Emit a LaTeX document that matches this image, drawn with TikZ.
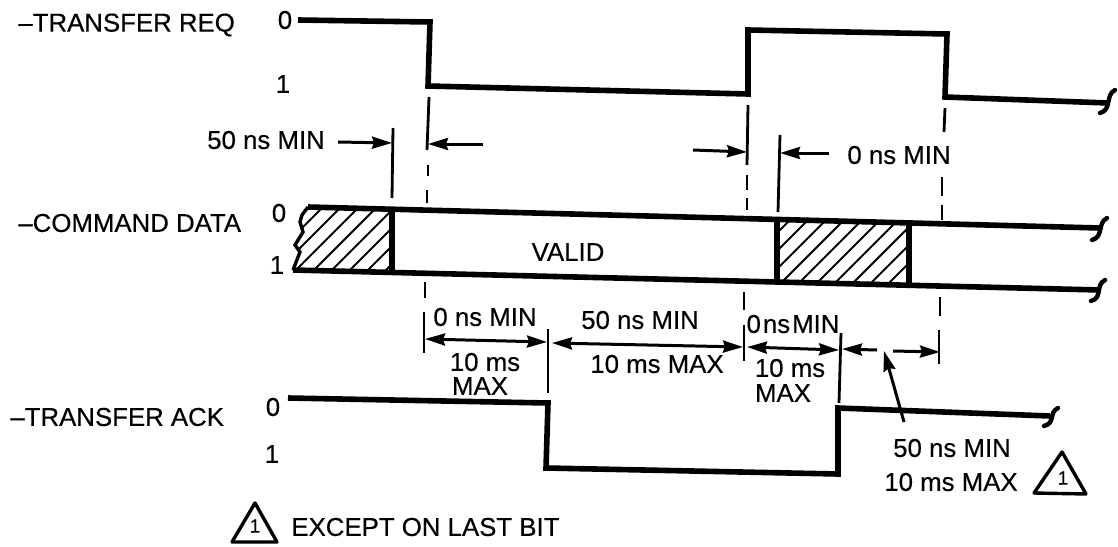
\documentclass[tikz,border=0pt]{standalone}
\usepackage{fontspec}
\setmainfont{Liberation Sans}[FakeBold=0.4]
\usetikzlibrary{arrows.meta, calc}
\tikzset{
  sigline/.style={line width=2.8pt, line join=miter},
  tickline/.style={line width=1.4pt},
  dimline/.style={line width=1.5pt, {Stealth[length=10pt,width=6pt,inset=1pt]}-{Stealth[length=10pt,width=6pt,inset=1pt]}},
  dimright/.style={line width=1.5pt, -{Stealth[length=10pt,width=6pt,inset=1pt]}},
  hatchline/.style={line width=1pt},
  breakmark/.style={line width=2.2pt, line cap=round},
  tlabel/.style={inner sep=0pt, font=\fontsize{12.9}{14}\selectfont},
  warnmark/.style={line width=1.7pt, line join=round},
  warnnum/.style={inner sep=0pt, font=\fontsize{9.5}{11}\selectfont}
}
\begin{document}
\begin{tikzpicture}[x=0.5pt, y=-0.5pt]
  \useasboundingbox (0,0) rectangle (1118,546);
  % signal names and levels
  \node[tlabel, anchor=west] (lblreq) at (18,25) {–TRANSFER REQ};
  \node[tlabel, anchor=west] (lblcmd) at (18,223) {–COMMAND DATA};
  \node[tlabel, anchor=west] (lblack) at (10,417) {–TRANSFER ACK};
  \foreach \n/\x/\y/\lv in {rzero/285/20/0, rone/283/84/1, czero/279/213/0, cone/277/265/1, azero/273/407/0, aone/272/454/1}
    \node[tlabel] (\n) at (\x,\y) {\lv};
  % hatched parts of the data line
  \begin{scope}
    \clip (308,207) -- (302,215) -- (300,222) -- (303,232) -- (295,245) -- (300,252) -- (293,270) -- (392,273) -- (392,210) -- cycle;
    \foreach \x in {250,268,...,470}
      \draw[hatchline] (\x,280) -- (\x+80,200);
  \end{scope}
  \begin{scope}
    \clip (777,222) rectangle (909,283);
    \foreach \x in {720,738,...,980}
      \draw[hatchline] (\x,290) -- (\x+80,210);
  \end{scope}
  % signals
  \draw[sigline] (298,20) -- (430,22) -- (428,86) -- (748,94) -- (748,30) -- (947,34) -- (945,97) -- (1108,103);
  \draw[sigline] (308,207) -- (1100,228);
  \draw[sigline] (293,270) -- (1100,290);
  \draw[line width=1.7pt] (308,207) -- (302,215) -- (300,222) -- (303,232) -- (295,245) -- (300,252) -- (293,270);
  \draw[sigline] (392,210) -- (392,273);
  \draw[sigline] (777,222) -- (777,282);
  \draw[sigline] (909,224) -- (909,285);
  \draw[sigline] (288,398) -- (548,403) -- (546,468) -- (838,474) -- (838,408) -- (1050,416);
  \foreach \xa/\ya/\xb/\yb in {1100/113/1115/90, 1092/240/1107/218, 1091/301/1105/280, 1044/426/1058/408}
    \draw[breakmark] (\xa,\ya) .. controls (\xa+12,\ya-3) and (\xb-10,\yb+5) .. (\xb,\yb);
  % extension lines
  \foreach \xa/\ya/\xb/\yb in {393/128/392/198, 429/97/427/150, 425/282/425/298, 424/312/424/353,
    548/329/548/393, 748/105/747/165, 744/292/744/310, 744/325/744/361, 780/135/778/212,
    841/333/839/403, 945/108/944/132, 942/177/942/196, 942/205/942/220, 940/297/940/316, 939/330/939/364,
    428/165/428/176, 427/190/427/203, 747/175/747/190, 747/198/747/210}
    \draw[tickline] (\xa,\ya) -- (\xb,\yb);
  % arrow ends
  \foreach \n/\x/\y in {pa/338/142, pb/392/143, pc/483/144, pd/428/144, pe/693/150, pf/747/152, pg/829/153, ph/780/153,
    qa/425/339, qb/547/342, qc/552/343, qd/743/347, qe/747/347, qf/839/350, qg/877/350, qh/842/349, qi/893/351, qj/940/352,
    qk/904/422, ql/884/351}
    \coordinate (\n) at (\x,\y);
  \foreach \s/\t in {pa/pb, pc/pd, pe/pf, pg/ph, qg/qh, qi/qj, qk/ql}
    \draw[dimright] (\s) -- (\t);
  \foreach \s/\t in {qa/qb, qc/qd, qe/qf}
    \draw[dimline] (\s) -- (\t);
  % timing texts
  \foreach \n/\x/\y/\txt in {tfifty/266/140/50 ns MIN, tzero/899/155/0 ns MIN, tvalid/568/252/VALID,
    tza/485/317/0 ns MIN, tzb/485/362/10 ms, tzc/480/386/MAX,
    tfa/640/320/50 ns MIN, tfb/657/364/10 ms MAX,
    tcb/790/368/10 ms, tcc/783/393/MAX,
    tla/952/448/50 ns MIN, tlb/951/482/10 ms MAX}
    \node[tlabel] (\n) at (\x,\y) {\txt};
  \node[tlabel] (tca) at (793,324) {\spaceskip=1pt 0 ns MIN};
  % note marks
  \draw[warnmark] (1062,452) -- (1086,494) -- (1034,493) -- cycle;
  \node[warnnum] (warnb) at (1063,478) {1};
  \draw[warnmark] (255,503) -- (277,542) -- (232,542) -- cycle;
  \node[warnnum] (warna) at (255,526) {1};
  \node[tlabel, anchor=west] (tnote) at (291,527) {EXCEPT ON LAST BIT};
\end{tikzpicture}
\end{document}
